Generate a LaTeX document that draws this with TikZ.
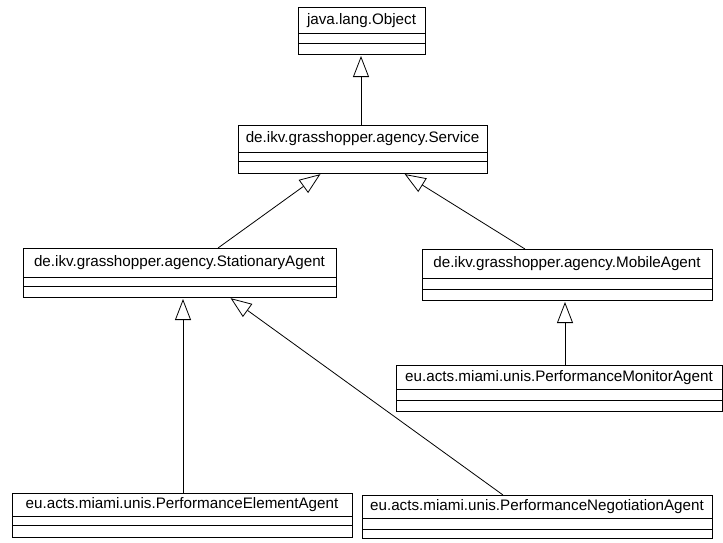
\documentclass[tikz,border=0pt]{standalone}
\usepackage{fontspec}
\setmainfont{Liberation Sans}
\usetikzlibrary{arrows.meta}

\tikzset{
  classbox/.style={draw, line width=1pt, inner sep=0pt, outer sep=0pt, anchor=north west},
  compline/.style={line width=1pt},
  classname/.style={font=\fontsize{15.2}{18}\selectfont, inner sep=0pt,
                    text height=11pt, text depth=3pt},
  generalization/.style={draw, line width=0.8pt, shorten >=2pt,
                         -{Triangle[open, length=21pt, width=16pt]}},
}

% #1 name, #2 left, #3 top, #4 right, #5 bottom, #6 name line, #7 attribute line, #8 class name
\newcommand{\umlclass}[8]{%
  \node[classbox, minimum width={#4-#2}, minimum height={#5-#3}] (#1) at (#2,#3) {};
  \draw[compline] (#2,#6) -- (#4,#6);
  \draw[compline] (#2,#7) -- (#4,#7);
  \node[classname] (#1-name) at ({(#2+#4)/2},{(#3+#6)/2}) {#8};
}

\begin{document}
\begin{tikzpicture}[x=1pt, y=-1pt]
  \fill[white] (0,0) rectangle (723,542);
  \useasboundingbox (0,0) rectangle (723,542);

  \umlclass{obj}{298}{7}{425}{54}{33}{43}{java.lang.Object}
  \umlclass{svc}{238}{125}{487}{173}{152}{161}{de.ikv.grasshopper.agency.Service}
  \umlclass{stat}{23}{248}{336}{297}{277}{286}{de.ikv.grasshopper.agency.StationaryAgent}
  \umlclass{mob}{422}{249}{712}{300}{278}{289}{de.ikv.grasshopper.agency.MobileAgent}
  \umlclass{mon}{396}{365}{722}{411}{389}{400}{eu.acts.miami.unis.PerformanceMonitorAgent}
  \umlclass{elem}{12}{493}{352}{537}{516}{525}{eu.acts.miami.unis.PerformanceElementAgent}
  \umlclass{neg}{362}{495}{712}{538}{518}{529}{eu.acts.miami.unis.PerformanceNegotiationAgent}

  % inheritance arrows (subclass -> superclass)
  \draw[generalization] ([xshift=123pt]svc.north west)  -- ([xshift=63pt]obj.south west);
  \draw[generalization] ([xshift=195pt]stat.north west) -- ([xshift=84pt]svc.south west);
  \draw[generalization] ([xshift=103pt]mob.north west)  -- ([xshift=165pt]svc.south west);
  \draw[generalization] ([xshift=169pt]mon.north west)  -- ([xshift=143pt]mob.south west);
  \draw[generalization] ([xshift=171pt]elem.north west) -- ([xshift=160pt]stat.south west);
  \draw[generalization] ([xshift=141pt]neg.north west)  -- ([xshift=206pt]stat.south west);
\end{tikzpicture}
\end{document}
